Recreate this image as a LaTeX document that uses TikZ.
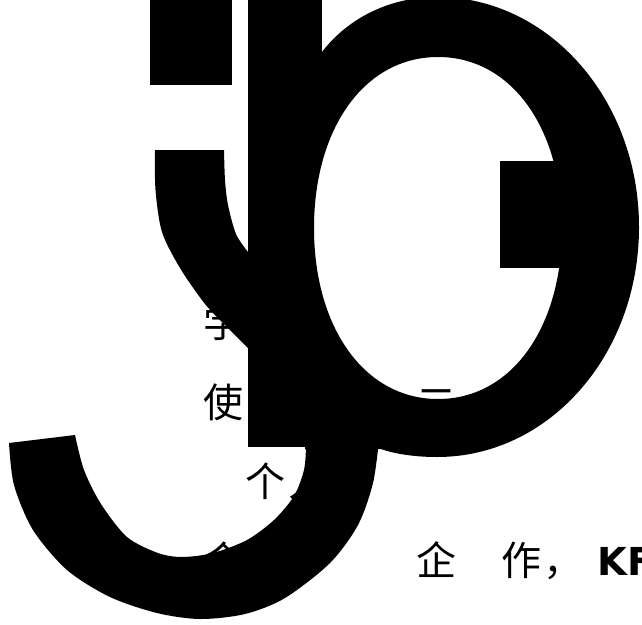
\documentclass[tikz,border=0pt]{standalone}
\usepackage{fontspec}
\newfontfamily\cjk{Noto Sans CJK SC}
\newfontfamily\latinfont{DejaVu Sans}
\tikzset{
  glyph/.style={fill=black, draw=none},
  cjkchar/.style={font=\cjk\fontsize{40}{40}\selectfont, inner sep=0pt, anchor=base west, text=black},
  latinchar/.style={font=\latinfont\bfseries\fontsize{38.5}{38.5}\selectfont, inner sep=0pt, anchor=base west, text=black}
}
\begin{document}
\begin{tikzpicture}[x=1pt,y=-1pt]
\useasboundingbox (0,0) rectangle (642,624);
\fill[white] (0,0) rectangle (642,624);
% text (lies beneath the black shapes)
\node[cjkchar] (c1) at (203,337) {学};
\node[cjkchar] (c2) at (203,417) {使};
\node[cjkchar] (c3) at (416,417) {二};
\node[cjkchar] (c4) at (245,496) {个};
\node[cjkchar] (c5) at (288,496) {人};
\node[cjkchar] (c6) at (203,575) {会};
\node[cjkchar] (c7) at (416,575) {企};
\node[cjkchar] (c8) at (501,575) {作};
\node[cjkchar] (c9) at (543,575) {，};
\node[latinchar] (c10) at (597,575) {KF};
% top rectangle
\fill[glyph] (150,-2) rectangle (232,85);
% vertical bar
\fill[glyph] (248,-2) rectangle (306,447);
\fill[glyph] (305,-2) rectangle (322,53);
% upper hook
\fill[glyph] plot[smooth] coordinates {(155,150) (155.5,190) (162,232) (180,268) (205,304) (226,326) (248,348)}
  -- (262,348) -- (262,252)
  -- plot[smooth] coordinates {(248,252) (236,234) (228,205) (225,180) (224,150)} -- cycle;
% ring with hole
\fill[glyph, even odd rule] (305,52) -- (322,52) .. controls (348,18) and (390,-3) .. (437,-3)
  .. controls (549,-3) and (639,100) .. (639,227)
  .. controls (639,355) and (549,457) .. (437,457)
  .. controls (415,457) and (395,454) .. (381,449) -- (305,449) -- cycle
  (438,57) .. controls (512,57) and (562,129) .. (562,228)
  .. controls (562,327) and (512,399) .. (438,399)
  .. controls (364,399) and (314,327) .. (314,228)
  .. controls (314,129) and (364,57) .. (438,57) -- cycle;
% inner block
\fill[glyph] (500,161) rectangle (566,268);
% lower hook
\fill[glyph] plot[smooth] coordinates {(9,443) (14,485) (33,530) (67,570) (110,597) (157,613) (200,619) (245,614) (285,598) (330,563) (358,525) (373,483) (379,440)}
  -- (306,440)
  -- plot[smooth] coordinates {(306,447) (304,470) (294,496) (274,520) (247,540) (213,553) (182,557) (158,553) (127,537) (101,504) (84,470) (75,435)} -- cycle;
\end{tikzpicture}
\end{document}
